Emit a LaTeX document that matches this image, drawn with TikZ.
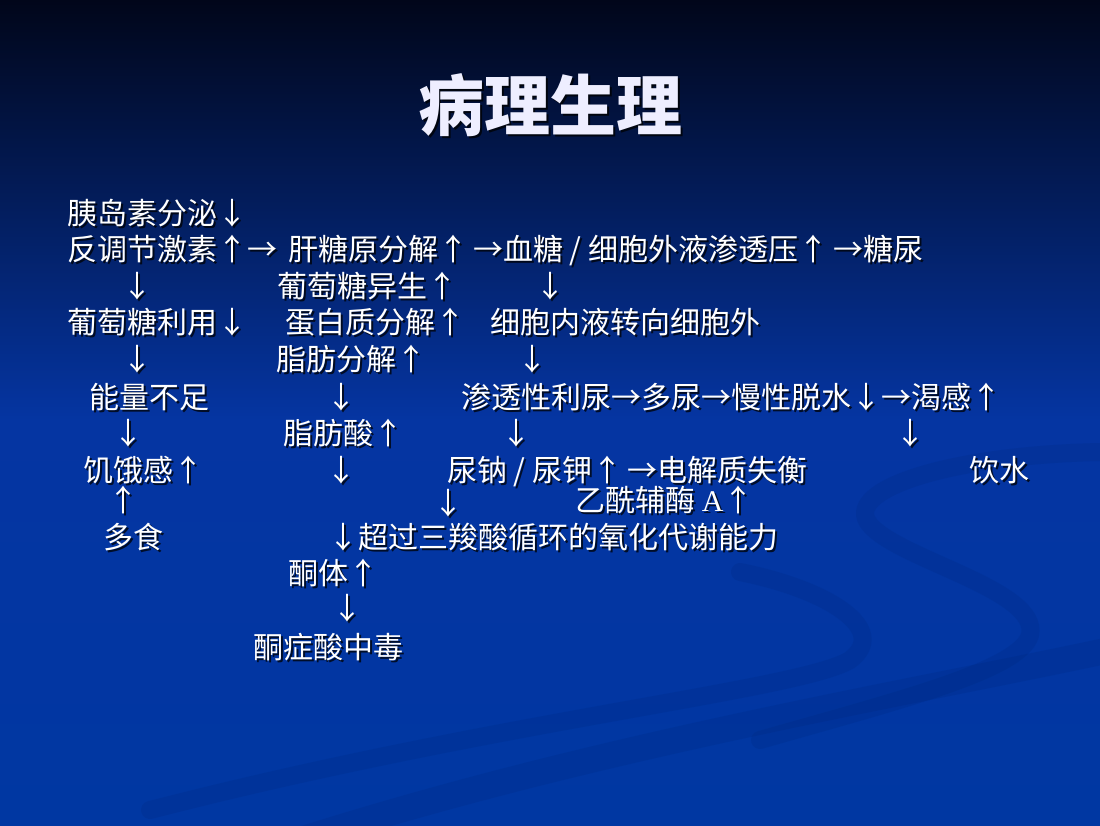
\documentclass[tikz,border=0pt]{standalone}
\usepackage{fontspec}
\newfontfamily\cjk{Noto Sans CJK SC}
\newfontfamily\serif{Liberation Serif}

\definecolor{bgtop}{HTML}{01061A}
\definecolor{bgmid}{HTML}{0535A2}
\definecolor{bgbot}{HTML}{0037A2}
\definecolor{swoosh}{HTML}{00206A}
\definecolor{titlecol}{HTML}{EEEEFF}

% text with a drop shadow: [style] name, position, text
\newcommand{\Txt}[4][txt]{
    \node[#1, drop, xshift=2pt, yshift=-2pt] (#2-shadow) at (#3) {#4};
    \node[#1] (#2) at (#3) {#4};
}

\begin{document}
\begin{tikzpicture}[x=1pt, y=-1pt,
    txt/.style={anchor=base west, inner sep=0pt, text=white, font=\cjk\fontsize{30}{36}\selectfont},
    arr/.style={txt, anchor=base},
    headline/.style={anchor=center, inner sep=0pt, text=titlecol, font=\cjk\bfseries\fontsize{66}{74}\selectfont},
    drop/.style={text=black, opacity=0.75},
    band/.style={draw=swoosh, line width=18pt, opacity=0.14, line cap=round}]
    % background
    \useasboundingbox (0,0) rectangle (1100,825);
    \shade[top color=bgtop, bottom color=bgmid] (0,0) rectangle (1100,420);
    \shade[top color=bgmid, bottom color=bgbot] (0,420) rectangle (1100,825);

    % swoosh
    \draw[band] (1100,452) .. controls (950,455) and (840,490) .. (870,525)
        .. controls (900,560) and (1040,590) .. (1030,635)
        .. controls (1020,670) and (900,700) .. (760,740);
    \draw[band] (740,572) .. controls (830,590) and (890,630) .. (850,660)
        .. controls (800,690) and (500,720) .. (150,810);
    \draw[band, line width=26pt] (300,840) .. controls (600,745) and (900,695) .. (1110,650);

    % title
    \Txt[headline]{title}{550,105}{病理生理}

    % left column
    \Txt{insulin}{67,224}{胰岛素分泌↓}
    \Txt{counter}{67,260}{反调节激素↑→}
    \Txt[arr]{a1}{137,297}{↓}
    \Txt{use}{67,333}{葡萄糖利用↓}
    \Txt[arr]{a2}{137,370}{↓}
    \Txt{energy}{89,408}{能量不足}
    \Txt[arr]{a3}{128,444}{↓}
    \Txt{hunger}{83,481}{饥饿感↑}
    \Txt[arr]{a4}{123,511}{↑}
    \Txt{eat}{103,548}{多食}

    % middle column
    \Txt{glycogen}{288,260}{肝糖原分解↑\,→血糖 / 细胞外液渗透压↑\,→糖尿}
    \Txt{neo}{277,297}{葡萄糖异生↑}
    \Txt{protein}{285,333}{蛋白质分解↑}
    \Txt{lipo}{276,370}{脂肪分解↑}
    \Txt[arr]{a5}{341,408}{↓}
    \Txt{fatty}{283,444}{脂肪酸↑}
    \Txt[arr]{a6}{341,481}{↓}
    \Txt{tca}{328,548}{↓超过三羧酸循环的氧化代谢能力}
    \Txt{ketone}{288,584}{酮体↑}
    \Txt[arr]{a7}{347,619}{↓}
    \Txt{acidosis}{253,658}{酮症酸中毒}

    % right column
    \Txt[arr]{a8}{550,297}{↓}
    \Txt{shift}{490,333}{细胞内液转向细胞外}
    \Txt[arr]{a9}{532,370}{↓}
    \Txt{diuresis}{461,408}{渗透性利尿→多尿→慢性脱水↓→渴感↑}
    \Txt[arr]{a10}{516,444}{↓}
    \Txt[arr]{a11}{910,444}{↓}
    \Txt{sodium}{447,481}{尿钠 / 尿钾↑\,→电解质失衡}
    \Txt{drink}{969,481}{饮水}
    \Txt[arr]{a12}{448,514}{↓}
    \Txt{acetyl}{575,511}{乙酰辅酶 {\serif A}↑}
\end{tikzpicture}
\end{document}
